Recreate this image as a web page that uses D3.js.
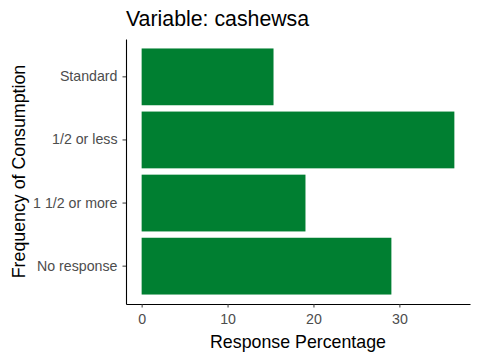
<!DOCTYPE html>
<html><head><meta charset="utf-8">
<script src="https://cdn.jsdelivr.net/npm/d3@7"></script>
<style>body{margin:0;background:#fff;} text{font-family:Arial,"Liberation Sans",sans-serif;}</style>
</head><body><svg id="c" width="480" height="360"></svg>
<script>
const categories = ["Standard", "1/2 or less", "1 1/2 or more", "No response"];
const values = [15.35, 36.4, 19.07, 29.07];
const xTicks = [0, 10, 20, 30];
const title = "Variable: cashewsa";
const xTitle = "Response Percentage";
const yTitle = "Frequency of Consumption";

const svg = d3.select("#c");
const L = 126, R = 470, T = 39, B = 304;
const maxV = d3.max(values);
const x = d3.scaleLinear().domain([-0.05*maxV, maxV*1.05]).range([L, R]);
const y = d3.scaleBand().domain(categories).range([T, B]).paddingInner(0.1).paddingOuter(0.15);

svg.selectAll("rect.bar").data(categories).join("rect")
  .attr("class","bar")
  .attr("x", x(0))
  .attr("y", d => y(d))
  .attr("width", (d,i) => x(values[i]) - x(0))
  .attr("height", y.bandwidth())
  .attr("fill", "#007f31");

const xa = svg.append("g").attr("transform", `translate(0,${B})`)
  .call(d3.axisBottom(x).tickValues(xTicks).tickSize(3.5).tickPadding(6.4).tickSizeOuter(0));
const ya = svg.append("g").attr("transform", `translate(${L},0)`)
  .call(d3.axisLeft(y).tickSize(3.5).tickPadding(5).tickSizeOuter(0));
[xa, ya].forEach(a => {
  a.select(".domain").attr("stroke","#000").attr("stroke-width",1.1);
  a.selectAll(".tick line").attr("stroke","#333");
  a.selectAll(".tick text").attr("fill","#4d4d4d").style("font-size","14.2px")
    .style("font-family","Arial, 'Liberation Sans', sans-serif");
});

svg.append("text").attr("x", L).attr("y", 26).text(title)
  .style("font-size","21.3px").attr("fill","#000");
svg.append("text").attr("x", (L+R)/2).attr("y", 348).attr("text-anchor","middle")
  .text(xTitle).style("font-size","17.8px").attr("fill","#000");
svg.append("text").attr("transform", `translate(24.5,${(T+B)/2}) rotate(-90)`)
  .attr("text-anchor","middle").text(yTitle).style("font-size","17.8px").attr("fill","#000");
</script></body></html>
